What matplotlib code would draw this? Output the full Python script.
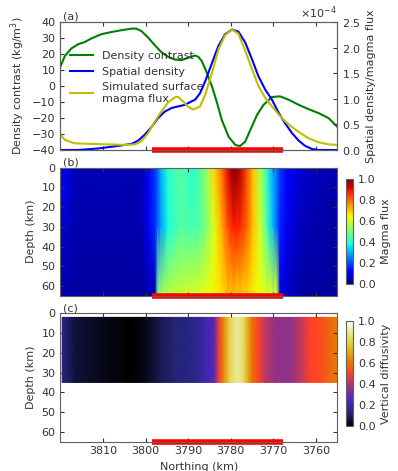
import numpy as np
import matplotlib
matplotlib.use("Agg")
import matplotlib.pyplot as plt
from matplotlib.ticker import ScalarFormatter

# panel (a) profiles, northing in km
dens_n = [3820, 3819.0, 3817.5, 3815.9, 3814.3, 3812.8, 3810.4, 3808.0, 3805.7, 3803.3,
          3802.2, 3801.0, 3799.4, 3797.8, 3796.3, 3794.7, 3793.1, 3791.6, 3790.0, 3788.4,
          3787.6, 3786.8, 3785.6, 3784.4, 3783.2, 3782.1, 3780.5, 3778.9, 3777.8, 3776.6,
          3775.4, 3773.8, 3772.3, 3770.3, 3768.4, 3766.4, 3764.0, 3761.7, 3759.3, 3757.0, 3755.0]
dens_contrast = [12.3, 18.6, 23.3, 26, 27.4, 29.6, 32.3, 33.7, 34.8, 35.8,
                 35.8, 34.3, 30.2, 25.3, 21.1, 18.2, 16.5, 16.1, 17.6, 19,
                 18.2, 15.5, 8.2, -0.3, -10.7, -21.2, -31.7, -36.9, -37.5, -34.8,
                 -27.5, -18, -11.8, -6.9, -6.5, -8.6, -11.8, -14.5, -17, -20.1, -25.4]

spat_n = [3820, 3815.9, 3811.2, 3806.5, 3803.3, 3801.8, 3800.2, 3798.6, 3797.1, 3795.5,
          3793.9, 3792.4, 3790.8, 3789.2, 3788.4, 3787.2, 3786.0, 3784.4, 3782.9, 3781.3,
          3779.7, 3778.2, 3776.6, 3775.0, 3773.5, 3771.9, 3770.3, 3768.7, 3767.2, 3765.6,
          3764.0, 3762.5, 3760.9, 3759.3, 3755.0]
spat_density = [0.0, 0.0, 0.03, 0.08, 0.12, 0.18, 0.3, 0.45, 0.62, 0.75,
                0.82, 0.85, 0.88, 0.95, 0.98, 1.11, 1.34, 1.7, 2.03, 2.26,
                2.35, 2.31, 2.1, 1.77, 1.44, 1.18, 0.98, 0.72, 0.52, 0.33,
                0.18, 0.08, 0.02, 0.0, 0.0]

flux_n = [3820, 3819.0, 3816.7, 3812.8, 3808.8, 3804.9, 3802.5, 3801.0, 3799.4, 3797.8,
          3796.3, 3794.7, 3793.1, 3792.4, 3791.2, 3790.0, 3788.8, 3787.2, 3786.0, 3784.4,
          3782.9, 3781.3, 3779.7, 3778.2, 3776.6, 3775.0, 3773.5, 3771.9, 3770.3, 3768.7,
          3767.2, 3765.6, 3764.0, 3761.7, 3759.3, 3757.0, 3755.0]
surf_flux = [0.3, 0.2, 0.13, 0.12, 0.11, 0.1, 0.11, 0.17, 0.33, 0.56,
             0.75, 0.93, 1.03, 1.04, 0.95, 0.84, 0.79, 0.85, 1.08, 1.51,
             1.96, 2.24, 2.35, 2.27, 1.94, 1.58, 1.25, 1.02, 0.85, 0.69,
             0.56, 0.45, 0.35, 0.23, 0.15, 0.11, 0.1]

source_range = [3798.4, 3767.6]

# panel (b) magma flux field
grid_n = [3820, 3819.4, 3816.6, 3801.1, 3799.4, 3797.8, 3797.2, 3796.4, 3794.7, 3791.9,
          3789.1, 3787.2, 3785.5, 3783.9, 3782.2, 3780.8, 3779.4, 3777.8, 3776.1, 3774.7,
          3773.1, 3771.6, 3770.2, 3769.1, 3768.4, 3766.7, 3764.8, 3762.5, 3755]
grid_depth = [0, 30, 65]
flux_top = [0.13, 0.11, 0.05, 0.05, 0.1, 0.18, 0.22, 0.3, 0.4, 0.45,
            0.4, 0.45, 0.55, 0.68, 0.78, 0.9, 1.0, 0.95, 0.82, 0.7,
            0.56, 0.42, 0.3, 0.24, 0.18, 0.12, 0.09, 0.06, 0.04]
flux_mid = [0.08, 0.07, 0.04, 0.04, 0.1, 0.17, 0.22, 0.28, 0.38, 0.45,
            0.43, 0.45, 0.52, 0.62, 0.72, 0.82, 0.88, 0.87, 0.8, 0.7,
            0.6, 0.45, 0.32, 0.22, 0.16, 0.1, 0.07, 0.05, 0.03]
flux_bot = [0.04, 0.04, 0.03, 0.03, 0.04, 0.05, 0.5, 0.55, 0.57, 0.59,
            0.61, 0.62, 0.63, 0.65, 0.67, 0.7, 0.7, 0.69, 0.68, 0.66,
            0.64, 0.62, 0.61, 0.6, 0.1, 0.06, 0.04, 0.03, 0.03]

# panel (c) vertical diffusivity
diff_n = [3819.6, 3816.6, 3810.7, 3803.6, 3800.1, 3796.6, 3793.1, 3789.5, 3787.2, 3785.5,
          3783.9, 3782.8, 3781.6, 3780.2, 3778.5, 3777.1, 3775.9, 3775.0, 3773.6, 3771.9,
          3769.5, 3766.0, 3763.6, 3761.3, 3758.9, 3756.6, 3755]
diffusivity = [0.13, 0.06, 0.03, 0.0, 0.02, 0.08, 0.12, 0.13, 0.17, 0.22,
               0.27, 0.48, 0.65, 0.82, 0.9, 0.85, 0.7, 0.6, 0.5, 0.42,
               0.36, 0.36, 0.42, 0.5, 0.52, 0.58, 0.62]
diff_depth = [2, 35]

xticks = [3810, 3800, 3790, 3780, 3770, 3760]

plt.rcParams.update({
    'font.size': 8,
    'text.color': '#333333',
    'axes.labelcolor': '#333333',
    'xtick.color': '#333333',
    'ytick.color': '#333333',
    'axes.edgecolor': '#606060',
    'xtick.direction': 'in',
    'ytick.direction': 'in',
})

fig = plt.figure(figsize=(3.98, 4.71), dpi=100)
L, W = 0.152, 0.695
ax1 = fig.add_axes([L, 0.6815, W, 0.272])
ax2 = fig.add_axes([L, 0.372, W, 0.272])
ax3 = fig.add_axes([L, 0.0625, W, 0.272])
cax2 = fig.add_axes([0.869, 0.397, 0.018, 0.223])
cax3 = fig.add_axes([0.869, 0.0955, 0.018, 0.223])

# (a)
l1, = ax1.plot(dens_n, dens_contrast, color='g', lw=1.5, label='Density contrast')
ax1.set_ylim(-40, 40)
ax1.set_yticks(range(-40, 41, 10))
ax1.set_ylabel('Density contrast (kg/m$^3$)')
ax1r = ax1.twinx()
l2, = ax1r.plot(spat_n, np.array(spat_density) * 1e-4, color='b', lw=1.5, label='Spatial density')
l3, = ax1r.plot(flux_n, np.array(surf_flux) * 1e-4, color='y', lw=1.5,
                label='Simulated surface\nmagma flux')
ax1r.set_ylim(0, 2.5e-4)
ax1r.set_yticks(np.arange(0, 2.51e-4, 0.5e-4))
fmt = ScalarFormatter(useMathText=True)
fmt.set_powerlimits((0, 0))
ax1r.yaxis.set_major_formatter(fmt)
ax1r.set_ylabel('Spatial density/magma flux')
ax1r.plot(source_range, [0, 0], color='r', lw=4, clip_on=False, solid_capstyle='butt')
ax1.legend(handles=[l1, l2, l3], frameon=False, loc='upper left',
           bbox_to_anchor=(0.0, 0.85), handlelength=2.0, fontsize=8, labelspacing=0.5)
ax1.text(0.01, 1.0, '(a)', transform=ax1.transAxes, va='bottom', ha='left')

# (b)
N, D = np.meshgrid(grid_n, grid_depth)
flux_field = np.array([flux_top, flux_mid, flux_bot])
im2 = ax2.pcolormesh(N, D, flux_field, cmap='jet', vmin=0, vmax=1, shading='gouraud')
ax2.plot(source_range, [65, 65], color='r', lw=4, clip_on=False, solid_capstyle='butt')
ax2.text(0.01, 1.0, '(b)', transform=ax2.transAxes, va='bottom', ha='left')
cb2 = fig.colorbar(im2, cax=cax2, ticks=np.arange(0, 1.01, 0.2))
cb2.set_label('Magma flux')

# (c)
dN, dD = np.meshgrid(diff_n, diff_depth)
diff_field = np.array([diffusivity, diffusivity])
im3 = ax3.pcolormesh(dN, dD, diff_field, cmap='CMRmap', vmin=0, vmax=1, shading='gouraud')
ax3.plot(source_range, [65, 65], color='r', lw=4, clip_on=False, solid_capstyle='butt')
ax3.text(0.01, 1.0, '(c)', transform=ax3.transAxes, va='bottom', ha='left')
cb3 = fig.colorbar(im3, cax=cax3, ticks=np.arange(0, 1.01, 0.2))
cb3.set_label('Vertical diffusivity')
ax3.set_xlabel('Northing (km)')

for ax in (ax1, ax2, ax3):
    ax.set_xlim(3820, 3755)
    ax.set_xticks(xticks)
    ax.tick_params(top=True, length=3)
for ax in (ax2, ax3):
    ax.set_ylim(65, 0)
    ax.set_yticks(range(0, 61, 10))
    ax.set_ylabel('Depth (km)')
    ax.tick_params(right=True)
ax1.tick_params(labelbottom=False)
ax2.tick_params(labelbottom=False)
ax1r.tick_params(length=3)
for cb in (cb2, cb3):
    cb.ax.tick_params(length=0)
    cb.outline.set_edgecolor('#606060')

fig.savefig('out.png', dpi=100)
